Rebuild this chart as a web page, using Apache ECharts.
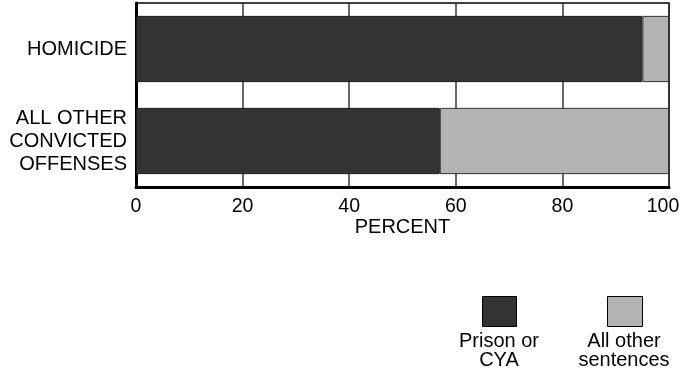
<!DOCTYPE html>
<html>
<head>
<meta charset="utf-8">
<script src="https://cdn.jsdelivr.net/npm/echarts@6/dist/echarts.min.js"></script>
<style>
  html, body { margin: 0; padding: 0; background: #fff; }
  #chart { width: 680px; height: 375px; }
</style>
</head>
<body>
<div id="chart"></div>
<script>
// data
const categories = ['HOMICIDE', 'ALL OTHER\nCONVICTED\nOFFENSES'];
const prisonOrCya = [95, 57];
const allOther = [5, 43];
const xTicks = [0, 20, 40, 60, 80, 100];

const DARK = '#333333';
const LIGHT = '#b3b3b3';
const FONT = 'Arial, "Liberation Sans", sans-serif';

const chart = echarts.init(document.getElementById('chart'));

chart.setOption({
  animation: false,
  textStyle: { fontFamily: FONT, color: '#000' },
  grid: {
    left: 136, right: 11, top: 3, bottom: 188,
    containLabel: false,
    outerBoundsMode: 'none',
    show: true, borderColor: '#000', borderWidth: 1.5
  },
  xAxis: {
    type: 'value',
    min: xTicks[0], max: xTicks[xTicks.length - 1], interval: 20,
    name: 'PERCENT',
    nameLocation: 'middle',
    nameGap: 25,
    nameTextStyle: { fontSize: 20, color: '#000', fontFamily: FONT },
    axisLine: { show: true, lineStyle: { color: '#000', width: 3 } },
    axisTick: { show: false },
    axisLabel: {
      fontSize: 19.5, color: '#000', margin: 10, fontFamily: FONT,
      // the last label sits a little inside the plot edge
      formatter: v => v === xTicks[xTicks.length - 1] ? '{last|' + v + '}' : String(v),
      rich: { last: { fontSize: 19.5, fontFamily: FONT, color: '#000', padding: [0, 12, 0, 0] } }
    },
    splitLine: { show: true, lineStyle: { color: '#333', width: 1.5 } }
  },
  yAxis: {
    type: 'category',
    data: categories,
    inverse: true,
    axisLine: { show: true, onZero: false, lineStyle: { color: '#000', width: 3 } },
    axisTick: { show: false },
    axisLabel: { fontSize: 20, lineHeight: 23, color: '#000', margin: 9, fontFamily: FONT, align: 'right' },
    splitLine: { show: false }
  },
  series: [
    {
      name: 'Prison or CYA',
      type: 'bar',
      stack: 'total',
      barWidth: '72%',
      data: prisonOrCya,
      itemStyle: { color: DARK, borderColor: '#1a1a1a', borderWidth: 1 }
    },
    {
      name: 'All other sentences',
      type: 'bar',
      stack: 'total',
      data: allOther,
      itemStyle: { color: LIGHT, borderColor: '#333', borderWidth: 1 }
    }
  ],
  graphic: [
    { type: 'rect', left: 482, top: 296, shape: { width: 34, height: 30 },
      style: { fill: DARK, stroke: '#000', lineWidth: 1 } },
    { type: 'text', x: 499, y: 332,
      style: { text: 'Prison or\nCYA', font: '20px ' + FONT, fill: '#000',
               align: 'center', verticalAlign: 'top', lineHeight: 19 } },
    { type: 'rect', left: 607, top: 296, shape: { width: 35, height: 30 },
      style: { fill: LIGHT, stroke: '#000', lineWidth: 1 } },
    { type: 'text', x: 624, y: 332,
      style: { text: 'All other\nsentences', font: '20px ' + FONT, fill: '#000',
               align: 'center', verticalAlign: 'top', lineHeight: 19 } }
  ]
});
</script>
</body>
</html>
